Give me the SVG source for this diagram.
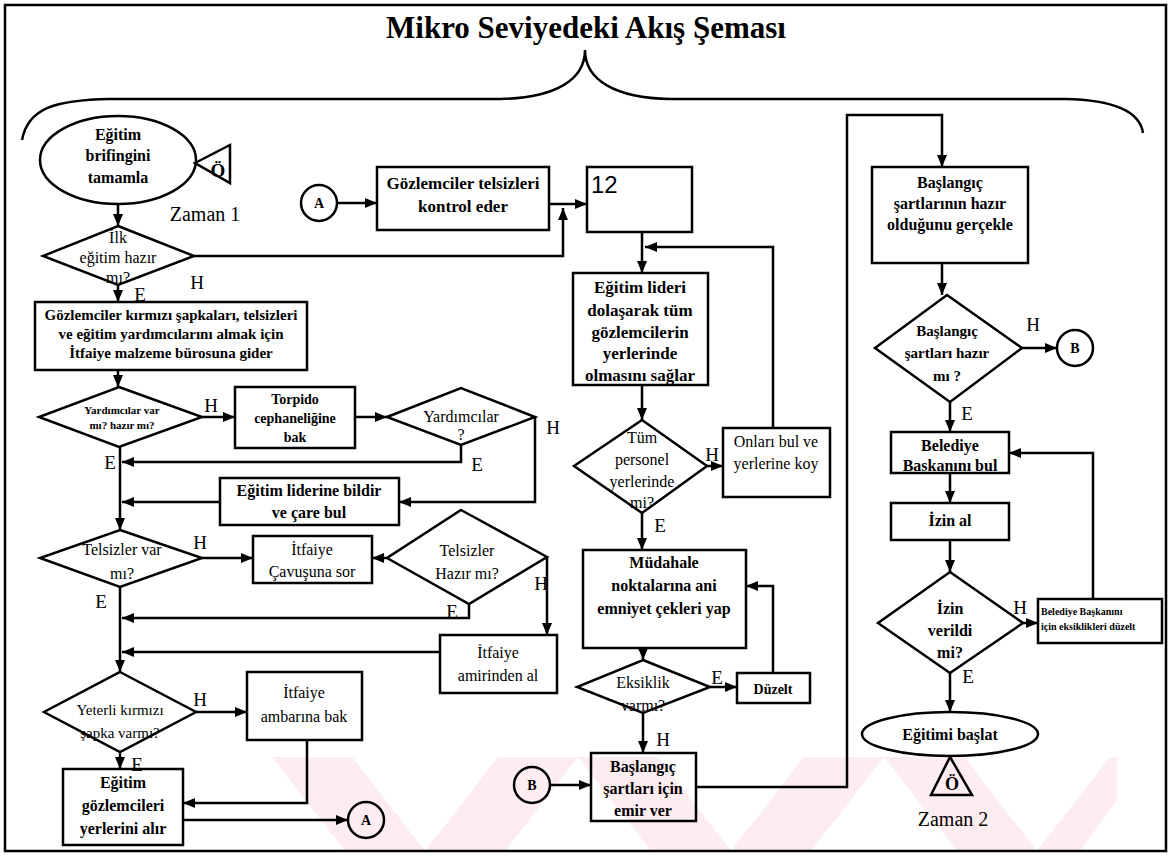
<svg xmlns="http://www.w3.org/2000/svg" width="1173" height="859" viewBox="0 0 1173 859">
  <defs>
    <marker id="ah" viewBox="0 0 12 10" refX="12" refY="5" markerWidth="12" markerHeight="10" markerUnits="userSpaceOnUse" orient="auto">
      <path d="M0,0 L12,5 L0,10 z" fill="#000"/>
    </marker>
    <style>
      .shape { fill: none; stroke: #000; stroke-width: 2.5; }
      .con { fill: none; stroke: #000; stroke-width: 2.5; }
      .arr { marker-end: url(#ah); }
      text { font-family: "Liberation Serif", "Times New Roman", serif; fill: #000; text-anchor: middle; }
      .b { font-weight: bold; font-size: 16px; }
      .r { font-weight: normal; font-size: 16px; }
      .lbl { font-size: 19px; }
      .wm { fill: #fdedf0; }
    </style>
  </defs>

  <rect width="1173" height="859" fill="#fff"/>

  <!-- faint background pattern near the bottom -->
  <g id="watermark">
    <polygon class="wm" points="272,757 352,757 425,851 345,851"/>
    <polygon class="wm" points="425,851 505,851 578,757 498,757"/>
    <polygon class="wm" points="578,757 658,757 731,851 651,851"/>
    <polygon class="wm" points="731,851 811,851 884,757 804,757"/>
    <polygon class="wm" points="884,757 964,757 1037,851 957,851"/>
    <polygon class="wm" points="1037,851 1080,851 1117,800 1117,757 1110,757"/>
  </g>

  <!-- frame -->
  <rect x="5" y="5" width="1161" height="846" fill="none" stroke="#000" stroke-width="2.5"/>

  <!-- title and brace -->
  <g id="title">
    <text x="586" y="38" style="font-size:31px;font-weight:bold">Mikro Seviyedeki Akış Şeması</text>
    <path d="M22,140 C28,108 55,100 110,99 L500,99 C555,98 585,80 585,50 C585,80 615,98 670,99 L1065,99 C1115,100 1140,112 1143,133" fill="none" stroke="#000" stroke-width="2.5"/>
  </g>

  <!-- connectors -->
  <g id="connectors">
    <path class="con arr" d="M118,205 V226"/>
    <path class="con arr" d="M118,285 V302"/>
    <path class="con arr" d="M194,256 H563 V208"/>
    <path class="con arr" d="M118,370 V387"/>
    <path class="con arr" d="M202,417 H235"/>
    <path class="con arr" d="M355,417 H387"/>
    <path class="con arr" d="M461,445 V462 H122"/>
    <path class="con arr" d="M535,417 V502 H399"/>
    <path class="con arr" d="M220,502 H122"/>
    <path class="con arr" d="M120,447 V530"/>
    <path class="con arr" d="M202,558 H253"/>
    <path class="con arr" d="M387,558 H372"/>
    <path class="con arr" d="M547,557 V635"/>
    <path class="con arr" d="M469,604 V618 H122"/>
    <path class="con arr" d="M440,652 H122"/>
    <path class="con arr" d="M120,587 V672"/>
    <path class="con arr" d="M196,712 H247"/>
    <path class="con arr" d="M307,740 V803 H183"/>
    <path class="con arr" d="M120,752 V769"/>
    <path class="con arr" d="M183,820 H348"/>

    <path class="con arr" d="M337,203 H377"/>
    <path class="con arr" d="M549,204 H587"/>
    <path class="con arr" d="M642,232 V273"/>
    <path class="con arr" d="M642,385 V420"/>
    <path class="con arr" d="M707,466 H723"/>
    <path class="con arr" d="M773,428 V247 H645"/>
    <path class="con arr" d="M642,513 V550"/>
    <path class="con arr" d="M643,648 V660"/>
    <path class="con arr" d="M710,687 H737"/>
    <path class="con arr" d="M773,673 V586 H746"/>
    <path class="con arr" d="M643,713 V753"/>
    <path class="con arr" d="M550,785 H591"/>
    <path class="con arr" d="M696,787 H847 V115 H942 V167"/>

    <path class="con arr" d="M942,263 V295"/>
    <path class="con arr" d="M1022,348 H1057"/>
    <path class="con arr" d="M950,402 V432"/>
    <path class="con arr" d="M950,473 V503"/>
    <path class="con arr" d="M950,540 V572"/>
    <path class="con arr" d="M1023,623 H1038"/>
    <path class="con arr" d="M1093,599 V453 H1009"/>
    <path class="con arr" d="M950,673 V712"/>
  </g>

  <!-- branch labels -->
  <g id="labels">
    <text x="197" y="289" class="lbl">H</text>
    <text x="140" y="301" class="lbl">E</text>
    <text x="211" y="412" class="lbl">H</text>
    <text x="553" y="434" class="lbl">H</text>
    <text x="477" y="471" class="lbl">E</text>
    <text x="110" y="469" class="lbl">E</text>
    <text x="200" y="549" class="lbl">H</text>
    <text x="541" y="590" class="lbl">H</text>
    <text x="452" y="618" class="lbl">E</text>
    <text x="101" y="608" class="lbl">E</text>
    <text x="200" y="706" class="lbl">H</text>
    <text x="137" y="771" class="lbl">E</text>
    <text x="712" y="461" class="lbl">H</text>
    <text x="660" y="532" class="lbl">E</text>
    <text x="717" y="684" class="lbl">E</text>
    <text x="663" y="746" class="lbl">H</text>
    <text x="1033" y="331" class="lbl">H</text>
    <text x="967" y="420" class="lbl">E</text>
    <text x="1020" y="614" class="lbl">H</text>
    <text x="968" y="683" class="lbl">E</text>
  </g>

  <!-- left column -->
  <g id="n-brifing">
    <ellipse class="shape" cx="118" cy="160" rx="78" ry="44"/>
    <text class="b" x="118" y="140">Eğitim</text>
    <text class="b" x="118" y="161">brifingini</text>
    <text class="b" x="118" y="183">tamamla</text>
  </g>
  <g id="n-zaman1">
    <polygon class="shape" points="195,163 230,145 230,183"/>
    <text x="218" y="177" style="font-size:19px;font-weight:bold">Ö</text>
    <text x="205" y="221" style="font-size:20px">Zaman 1</text>
  </g>
  <g id="n-ilk">
    <polygon class="shape" points="118,226 194,256 118,285 43,256"/>
    <text class="r" x="118" y="243">İlk</text>
    <text class="r" x="118" y="263">eğitim hazır</text>
    <text class="r" x="118" y="283">mı?</text>
  </g>
  <g id="n-malzeme">
    <rect class="shape" x="35" y="302" width="272" height="68"/>
    <text x="171" y="320" style="font-size:15px;font-weight:bold">Gözlemciler kırmızı şapkaları, telsizleri</text>
    <text x="171" y="339" style="font-size:15px;font-weight:bold">ve eğitim yardımcılarını almak için</text>
    <text x="171" y="358" style="font-size:15px;font-weight:bold">İtfaiye malzeme bürosuna gider</text>
  </g>
  <g id="n-yardimci1">
    <polygon class="shape" points="119,387 202,417 119,447 39,417"/>
    <text x="122" y="414" style="font-size:11px;font-weight:bold">Yardımcılar var</text>
    <text x="122" y="429" style="font-size:11px;font-weight:bold">mı? hazır mı?</text>
  </g>
  <g id="n-torpido">
    <rect class="shape" x="235" y="387" width="120" height="61"/>
    <text x="295" y="404" style="font-size:14px;font-weight:bold">Torpido</text>
    <text x="295" y="423" style="font-size:14px;font-weight:bold">cephaneliğine</text>
    <text x="295" y="442" style="font-size:14px;font-weight:bold">bak</text>
  </g>
  <g id="n-yardimci2">
    <polygon class="shape" points="387,417 461,388 535,417 461,445"/>
    <text class="r" x="461" y="422">Yardımcılar</text>
    <text class="r" x="461" y="440">?</text>
  </g>
  <g id="n-lider">
    <rect class="shape" x="220" y="478" width="179" height="47"/>
    <text class="b" x="309" y="496">Eğitim liderine bildir</text>
    <text class="b" x="309" y="518">ve çare bul</text>
  </g>
  <g id="n-telsiz1">
    <polygon class="shape" points="120,530 202,558 120,587 40,558"/>
    <text class="r" x="122" y="555">Telsizler var</text>
    <text class="r" x="122" y="579">mı?</text>
  </g>
  <g id="n-cavus">
    <rect class="shape" x="253" y="536" width="119" height="47"/>
    <text class="r" x="312" y="555">İtfaiye</text>
    <text class="r" x="312" y="577">Çavuşuna sor</text>
  </g>
  <g id="n-telsiz2">
    <polygon class="shape" points="461,510 547,557 469,604 387,558"/>
    <text class="r" x="467" y="556">Telsizler</text>
    <text class="r" x="467" y="579">Hazır mı?</text>
  </g>
  <g id="n-amir">
    <rect class="shape" x="440" y="635" width="117" height="58"/>
    <text class="r" x="498" y="658">İtfaiye</text>
    <text class="r" x="498" y="681">amirinden al</text>
  </g>
  <g id="n-sapka">
    <polygon class="shape" points="120,672 196,712 120,752 44,712"/>
    <text x="120" y="715" style="font-size:15px">Yeterli  kırmızı</text>
    <text x="120" y="738" style="font-size:15px">şapka varmı?</text>
  </g>
  <g id="n-ambar">
    <rect class="shape" x="247" y="672" width="115" height="68"/>
    <text class="r" x="304" y="698">İtfaiye</text>
    <text class="r" x="304" y="722">ambarına bak</text>
  </g>
  <g id="n-yerler">
    <rect class="shape" x="63" y="769" width="120" height="76"/>
    <text class="b" x="123" y="788">Eğitim</text>
    <text class="b" x="123" y="811">gözlemcileri</text>
    <text class="b" x="123" y="834">yerlerini alır</text>
  </g>
  <g id="n-A-out">
    <circle class="shape" cx="366" cy="820" r="18"/>
    <text x="366" y="825" style="font-size:14px;font-weight:bold">A</text>
  </g>

  <!-- middle column -->
  <g id="n-A-in">
    <circle class="shape" cx="319" cy="203" r="18"/>
    <text x="319" y="208" style="font-size:14px;font-weight:bold">A</text>
  </g>
  <g id="n-kontrol">
    <rect class="shape" x="377" y="167" width="172" height="63"/>
    <text x="463" y="189" style="font-size:17px;font-weight:bold">Gözlemciler telsizleri</text>
    <text x="463" y="212" style="font-size:17px;font-weight:bold">kontrol eder</text>
  </g>
  <g id="n-12">
    <rect class="shape" x="587" y="167" width="105" height="65"/>
    <text x="591" y="193" style="font-family:'Liberation Sans',Arial,sans-serif;font-size:24px;text-anchor:start">12</text>
  </g>
  <g id="n-dolas">
    <rect class="shape" x="573" y="273" width="135" height="112"/>
    <text x="640" y="293" style="font-size:17px;font-weight:bold">Eğitim lideri</text>
    <text x="640" y="316" style="font-size:17px;font-weight:bold">dolaşarak tüm</text>
    <text x="640" y="338" style="font-size:17px;font-weight:bold">gözlemcilerin</text>
    <text x="640" y="359" style="font-size:17px;font-weight:bold">yerlerinde</text>
    <text x="640" y="381" style="font-size:17px;font-weight:bold">olmasını sağlar</text>
  </g>
  <g id="n-personel">
    <polygon class="shape" points="642,420 707,466 642,513 574,466"/>
    <text class="r" x="642" y="443">Tüm</text>
    <text class="r" x="642" y="465">personel</text>
    <text class="r" x="642" y="487">yerlerinde</text>
    <text class="r" x="642" y="508">mi?</text>
  </g>
  <g id="n-onlari">
    <rect class="shape" x="723" y="428" width="107" height="69"/>
    <text class="r" x="776" y="447">Onları bul ve</text>
    <text class="r" x="776" y="469">yerlerine koy</text>
  </g>
  <g id="n-mudahale">
    <rect class="shape" x="583" y="550" width="163" height="98"/>
    <text class="b" x="664" y="568">Müdahale</text>
    <text class="b" x="664" y="591">noktalarına ani</text>
    <text class="b" x="664" y="614">emniyet çekleri yap</text>
  </g>
  <g id="n-eksiklik">
    <polygon class="shape" points="643,660 710,687 643,713 577,687"/>
    <text class="r" x="643" y="688">Eksiklik</text>
    <text class="r" x="643" y="711">varmı?</text>
  </g>
  <g id="n-duzelt">
    <rect class="shape" x="737" y="673" width="73" height="30"/>
    <text x="773" y="694" style="font-size:14px;font-weight:bold">Düzelt</text>
  </g>
  <g id="n-emir">
    <rect class="shape" x="591" y="753" width="105" height="68"/>
    <text class="b" x="643" y="772">Başlangıç</text>
    <text class="b" x="643" y="794">şartları için</text>
    <text class="b" x="643" y="816">emir ver</text>
  </g>
  <g id="n-B-in">
    <circle class="shape" cx="532" cy="785" r="18"/>
    <text x="532" y="790" style="font-size:14px;font-weight:bold">B</text>
  </g>

  <!-- right column -->
  <g id="n-gercekle">
    <rect class="shape" x="872" y="167" width="156" height="96"/>
    <text class="b" x="950" y="188">Başlangıç</text>
    <text class="b" x="950" y="209">şartlarının hazır</text>
    <text class="b" x="950" y="230">olduğunu gerçekle</text>
  </g>
  <g id="n-hazir">
    <polygon class="shape" points="947,295 1022,348 950,402 875,348"/>
    <text x="947" y="336" style="font-size:15px;font-weight:bold">Başlangıç</text>
    <text x="947" y="358" style="font-size:15px;font-weight:bold">şartları hazır</text>
    <text x="947" y="381" style="font-size:15px;font-weight:bold">mı ?</text>
  </g>
  <g id="n-B-out">
    <circle class="shape" cx="1075" cy="348" r="18"/>
    <text x="1075" y="353" style="font-size:14px;font-weight:bold">B</text>
  </g>
  <g id="n-baskan">
    <rect class="shape" x="891" y="432" width="118" height="41"/>
    <text class="b" x="950" y="451">Belediye</text>
    <text class="b" x="950" y="471">Baskanını bul</text>
  </g>
  <g id="n-izin">
    <rect class="shape" x="891" y="503" width="118" height="37"/>
    <text class="b" x="950" y="526">İzin al</text>
  </g>
  <g id="n-verildi">
    <polygon class="shape" points="950,572 1023,623 950,673 878,623"/>
    <text class="b" x="950" y="614">İzin</text>
    <text class="b" x="950" y="636">verildi</text>
    <text class="b" x="950" y="658">mi?</text>
  </g>
  <g id="n-eksik">
    <rect class="shape" x="1038" y="599" width="124" height="44"/>
    <text x="1041" y="615" style="font-size:10px;font-weight:bold;text-anchor:start">Belediye Başkanını</text>
    <text x="1041" y="630" style="font-size:10px;font-weight:bold;text-anchor:start">için eksiklikleri düzelt</text>
  </g>
  <g id="n-baslat">
    <ellipse class="shape" cx="950" cy="734" rx="88" ry="22"/>
    <text class="b" x="950" y="740">Eğitimi başlat</text>
  </g>
  <g id="n-zaman2">
    <polygon class="shape" points="950,757 931,795 972,795"/>
    <text x="952" y="790" style="font-size:18px;font-weight:bold">Ö</text>
    <text x="953" y="826" style="font-size:20px">Zaman 2</text>
  </g>
</svg>
